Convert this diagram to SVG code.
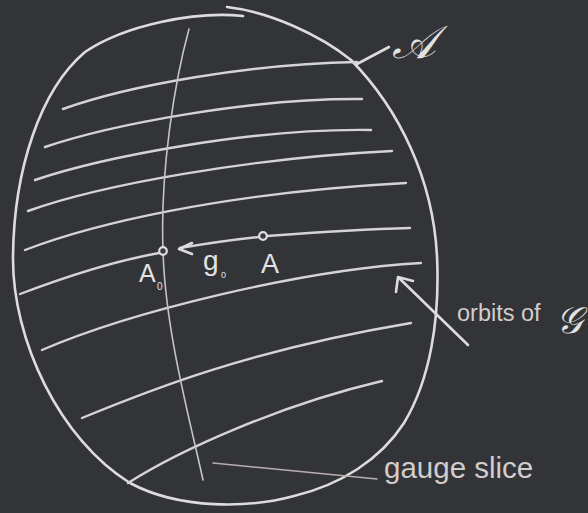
<svg xmlns="http://www.w3.org/2000/svg" width="588" height="513" viewBox="0 0 588 513">
<defs>
<style>
.chalk{fill:none;stroke:#dcdcdc;stroke-width:2.6;stroke-linecap:round;stroke-linejoin:round}
.orbit{fill:none;stroke:#d4d4d4;stroke-width:2.4;stroke-linecap:round}
.thin{fill:none;stroke:#c4c4c4;stroke-width:1.6;stroke-linecap:round}
.pt{fill:#3a3b3f;stroke:#e0e0e0;stroke-width:2.2}
.lbl{fill:#e2e2e2;font-family:"Liberation Sans","DejaVu Sans",sans-serif}
.scr{fill:#e2e2e2;font-family:"DejaVu Serif","DejaVu Sans","Noto Sans",serif;font-style:italic}
.hand{fill:#d2cccc;font-family:"Liberation Sans","DejaVu Sans",sans-serif}
</style>
</defs>
<rect width="588" height="513" fill="#333438"/>
<g id="space">
<path class="chalk" d="M243,16 C195,11 125,25 85,52 C40,90 14,170 13,256 C12,340 60,440 130,483 C180,510 250,508 294,496 C340,485 380,460 404,423 C430,380 440,320 437,256 C433,180 400,110 351,60 C320,35 270,12 227,7"/>
</g>
<g id="orbits">
<path class="orbit" d="M63,109 C130,85 250,64 357,62"/>
<path class="orbit" d="M45,147 C110,125 250,98 362,99"/>
<path class="orbit" d="M35,180 C100,158 250,128 371,130"/>
<path class="orbit" d="M28,211 C100,185 250,158 392,151"/>
<path class="orbit" d="M25,250 C90,225 220,193 406,183"/>
<path class="orbit" d="M20,294 C70,275 120,260 159,253"/>
<path class="orbit" d="M180,248 C210,243 240,239 259,237"/>
<path class="orbit" d="M267,236 C320,232 370,229 410,228"/>
<path class="orbit" d="M42,350 C130,312 300,270 421,263"/>
<path class="orbit" d="M82,418 C150,390 250,350 411,323"/>
<path class="orbit" d="M128,483 C180,450 280,405 382,381"/>
</g>
<g id="gauge-slice">
<path class="thin" d="M189,29 C175,80 160,170 163,250 C165,330 190,420 203,480"/>
</g>
<g id="A0">
<circle class="pt" cx="163" cy="251" r="3.8"/>
<text class="lbl" x="139" y="282" font-size="25">A</text>
<text class="lbl" x="157" y="290" font-size="10">0</text>
</g>
<g id="A">
<circle class="pt" cx="263" cy="236" r="3.8"/>
<text class="lbl" x="261" y="273" font-size="27">A</text>
</g>
<g id="connectors">
<path class="chalk" d="M192,243 L179,249 L192,254"/>
<text class="lbl" x="203" y="270" font-size="28">g</text>
<text class="lbl" x="221" y="278" font-size="9">0</text>
<path class="chalk" d="M357,64 L389,47"/>
<path class="chalk" d="M468,345 L399,278 M396,292 L398,277 L413,281"/>
<path class="thin" style="stroke:#b9aeae" d="M213,463 L377,479"/>
</g>
<g id="labels">
<text class="scr" x="392" y="58" font-size="46">𝒜</text>
<text class="hand" x="457" y="321" font-size="23.5">orbits of</text>
<text class="scr" x="556" y="333" font-size="37">𝒢</text>
<text class="hand" x="384" y="478" font-size="29.5">gauge slice</text>
</g>
</svg>
